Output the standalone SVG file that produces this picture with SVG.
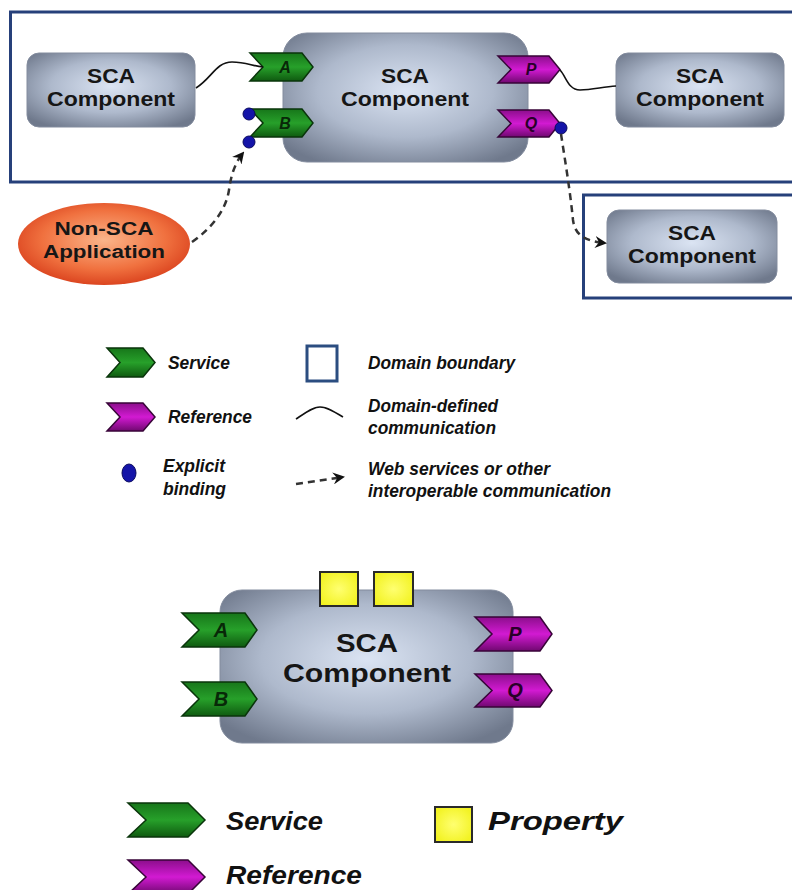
<svg xmlns="http://www.w3.org/2000/svg" width="792" height="890" viewBox="0 0 792 890">
<defs>
  <radialGradient id="compGrad" cx="50%" cy="45%" r="65%">
    <stop offset="0" stop-color="#dbe4f3"/>
    <stop offset="0.55" stop-color="#aeb9cc"/>
    <stop offset="1" stop-color="#6f798c"/>
  </radialGradient>
  <radialGradient id="appGrad" cx="50%" cy="45%" r="60%">
    <stop offset="0" stop-color="#fbb58a"/>
    <stop offset="0.6" stop-color="#f0713f"/>
    <stop offset="1" stop-color="#d63a18"/>
  </radialGradient>
  <linearGradient id="svcGrad" x1="0" y1="0" x2="0" y2="1">
    <stop offset="0" stop-color="#17761a"/>
    <stop offset="0.5" stop-color="#27a02a"/>
    <stop offset="1" stop-color="#0f5a10"/>
  </linearGradient>
  <linearGradient id="refGrad" x1="0" y1="0" x2="0" y2="1">
    <stop offset="0" stop-color="#8c0e8c"/>
    <stop offset="0.5" stop-color="#d21ad2"/>
    <stop offset="1" stop-color="#700870"/>
  </linearGradient>
  <radialGradient id="propGrad" cx="50%" cy="50%" r="60%">
    <stop offset="0" stop-color="#ffff70"/>
    <stop offset="1" stop-color="#f2f220"/>
  </radialGradient>
  <marker id="wsArrow" viewBox="0 0 12 12" refX="10" refY="6" markerWidth="12" markerHeight="12" markerUnits="userSpaceOnUse" orient="auto">
    <path d="M0,0 L12,6 L0,12 L4,6 Z" fill="#111"/>
  </marker>
</defs>
<style>
  .dom{fill:none;stroke:#26407a;stroke-width:3}
  .comp{fill:url(#compGrad);stroke:#838c9e;stroke-width:1}
  .ct{font-family:"Liberation Sans",Arial,sans-serif;font-weight:bold;fill:#161616;text-anchor:middle}
  .svc{fill:url(#svcGrad);stroke:#0a350b;stroke-width:1.5}
  .ref{fill:url(#refGrad);stroke:#380538;stroke-width:1.5}
  .pl{font-family:"Liberation Sans",Arial,sans-serif;font-weight:bold;font-style:italic;text-anchor:middle}
  .svcl{fill:#082808}
  .refl{fill:#280028}
  .bind{fill:#1414a8;stroke:#0a0a60;stroke-width:1}
  .wire{fill:none;stroke:#111;stroke-width:1.6}
  .ws{fill:none;stroke:#333;stroke-width:2.5;stroke-dasharray:7 5}
  .lg{font-family:"Liberation Sans",Arial,sans-serif;font-weight:bold;font-style:italic;fill:#111}
  .prop{fill:url(#propGrad);stroke:#2a2a2a;stroke-width:2}
</style>

<!-- domain boundaries -->
<g id="domain-main"><rect class="dom" x="10.5" y="12" width="800" height="170"/></g>
<g id="domain-remote"><rect class="dom" x="583.5" y="195" width="230" height="103"/></g>

<!-- components of the assembly -->
<g id="comp-left">
  <rect class="comp" x="27" y="53" width="168" height="74" rx="12"/>
  <text class="ct" x="111" y="83" font-size="21" textLength="48" lengthAdjust="spacingAndGlyphs">SCA</text>
  <text class="ct" x="111" y="106" font-size="21" textLength="128" lengthAdjust="spacingAndGlyphs">Component</text>
</g>
<g id="comp-center">
  <rect class="comp" x="283" y="33" width="245" height="129" rx="24"/>
  <text class="ct" x="405" y="83" font-size="21" textLength="48" lengthAdjust="spacingAndGlyphs">SCA</text>
  <text class="ct" x="405" y="106" font-size="21" textLength="128" lengthAdjust="spacingAndGlyphs">Component</text>
</g>
<g id="comp-right">
  <rect class="comp" x="616" y="53" width="168" height="74" rx="12"/>
  <text class="ct" x="700" y="83" font-size="21" textLength="48" lengthAdjust="spacingAndGlyphs">SCA</text>
  <text class="ct" x="700" y="106" font-size="21" textLength="128" lengthAdjust="spacingAndGlyphs">Component</text>
</g>
<g id="comp-remote">
  <rect class="comp" x="607" y="210" width="170" height="73" rx="12"/>
  <text class="ct" x="692" y="240" font-size="21" textLength="48" lengthAdjust="spacingAndGlyphs">SCA</text>
  <text class="ct" x="692" y="263" font-size="21" textLength="128" lengthAdjust="spacingAndGlyphs">Component</text>
</g>
<g id="non-sca-app">
  <ellipse cx="104" cy="244" rx="86" ry="41" fill="url(#appGrad)"/>
  <text class="ct" x="104" y="235" font-size="18" textLength="99" lengthAdjust="spacingAndGlyphs">Non-SCA</text>
  <text class="ct" x="104" y="258" font-size="18" textLength="122" lengthAdjust="spacingAndGlyphs">Application</text>
</g>

<!-- services and references of the center component -->
<g id="svc-A">
  <path class="svc" d="M250,53 H302 L313,67 L302,81 H250 L263,67 Z"/>
  <text class="pl svcl" x="285" y="73" font-size="16">A</text>
</g>
<g id="svc-B">
  <path class="svc" d="M250,109 H302 L313,123 L302,137 H250 L263,123 Z"/>
  <text class="pl svcl" x="285" y="129" font-size="16">B</text>
</g>
<g id="ref-P">
  <path class="ref" d="M498,56 H549 L560,69.5 L549,83 H498 L511,69.5 Z"/>
  <text class="pl refl" x="531" y="75" font-size="16">P</text>
</g>
<g id="ref-Q">
  <path class="ref" d="M498,110 H549 L560,123.5 L549,137 H498 L511,123.5 Z"/>
  <text class="pl refl" x="531" y="129" font-size="16">Q</text>
</g>
<g id="bindings">
  <circle class="bind" cx="249" cy="114" r="6"/>
  <circle class="bind" cx="249" cy="142" r="6"/>
  <circle class="bind" cx="561" cy="128" r="6"/>
</g>

<!-- connectors -->
<g id="connectors">
  <path class="wire" d="M196,88 C212,78 216,62 232,62 C246,62 252,66 263,67"/>
  <path class="wire" d="M560,70 C566,76 568,90 580,90 C592,90 602,87 616,86"/>
  <path class="ws" marker-end="url(#wsArrow)" d="M192,242 C212,228 226,210 229,190 C231,175 235,163 243,153"/>
  <path class="ws" marker-end="url(#wsArrow)" d="M561,134 C565,160 570,190 573,220 C575,236 586,241 605,243"/>
</g>

<!-- key for the assembly -->
<g id="legend-top">
  <path class="svc" d="M107,348 H143 L155,362.5 L143,377 H107 L120,362.5 Z"/>
  <text class="lg" x="168" y="369" font-size="19" textLength="62" lengthAdjust="spacingAndGlyphs">Service</text>
  <path class="ref" d="M107,403 H143 L155,417 L143,431 H107 L120,417 Z"/>
  <text class="lg" x="168" y="423" font-size="19" textLength="84" lengthAdjust="spacingAndGlyphs">Reference</text>
  <ellipse class="bind" cx="129" cy="473" rx="7" ry="9"/>
  <text class="lg" x="163" y="472" font-size="19" textLength="62" lengthAdjust="spacingAndGlyphs">Explicit</text>
  <text class="lg" x="163" y="495" font-size="19" textLength="63" lengthAdjust="spacingAndGlyphs">binding</text>
  <rect x="307" y="346" width="30" height="35" fill="#fff" stroke="#2b4d80" stroke-width="3"/>
  <text class="lg" x="368" y="369" font-size="19" textLength="147" lengthAdjust="spacingAndGlyphs">Domain boundary</text>
  <path class="wire" d="M296,419 C305,413 313,407 320,407 C327,407 335,412 343,417"/>
  <text class="lg" x="368" y="412" font-size="19" textLength="130" lengthAdjust="spacingAndGlyphs">Domain-defined</text>
  <text class="lg" x="368" y="434" font-size="19" textLength="128" lengthAdjust="spacingAndGlyphs">communication</text>
  <path class="ws" marker-end="url(#wsArrow)" d="M296,484 L343,477" stroke-width="2" stroke-dasharray="6 6"/>
  <text class="lg" x="368" y="475" font-size="19" textLength="182" lengthAdjust="spacingAndGlyphs">Web services or other</text>
  <text class="lg" x="368" y="497" font-size="19" textLength="243" lengthAdjust="spacingAndGlyphs">interoperable communication</text>
</g>

<!-- single component with its properties -->
<g id="comp-detail">
  <rect class="comp" x="220" y="590" width="293" height="153" rx="22"/>
  <text class="ct" x="367" y="652" font-size="26" textLength="62" lengthAdjust="spacingAndGlyphs">SCA</text>
  <text class="ct" x="367" y="682" font-size="26" textLength="168" lengthAdjust="spacingAndGlyphs">Component</text>
</g>
<g id="prop-1"><rect class="prop" x="320" y="572" width="38" height="34"/></g>
<g id="prop-2"><rect class="prop" x="374" y="572" width="39" height="34"/></g>
<g id="detail-svc-A">
  <path class="svc" d="M182,613 H245 L257,630 L245,647 H182 L199,630 Z"/>
  <text class="pl svcl" x="221" y="637" font-size="20">A</text>
</g>
<g id="detail-svc-B">
  <path class="svc" d="M182,682 H245 L257,699 L245,716 H182 L199,699 Z"/>
  <text class="pl svcl" x="221" y="706" font-size="20">B</text>
</g>
<g id="detail-ref-P">
  <path class="ref" d="M475,617 H540 L552,634 L540,651 H475 L492,634 Z"/>
  <text class="pl refl" x="515" y="641" font-size="20">P</text>
</g>
<g id="detail-ref-Q">
  <path class="ref" d="M475,674 H540 L552,690.5 L540,707 H475 L492,690.5 Z"/>
  <text class="pl refl" x="515" y="697" font-size="20">Q</text>
</g>

<!-- key for the single component -->
<g id="legend-bottom">
  <path class="svc" d="M128,803 H188 L205,820 L188,837 H128 L146,820 Z"/>
  <text class="lg" x="226" y="830" font-size="26" textLength="97" lengthAdjust="spacingAndGlyphs">Service</text>
  <rect class="prop" x="435" y="807" width="37" height="35"/>
  <text class="lg" x="488" y="830" font-size="26" textLength="135" lengthAdjust="spacingAndGlyphs">Property</text>
  <path class="ref" d="M128,860 H188 L205,877 L188,894 H128 L146,877 Z"/>
  <text class="lg" x="226" y="884" font-size="26" textLength="136" lengthAdjust="spacingAndGlyphs">Reference</text>
</g>
</svg>
